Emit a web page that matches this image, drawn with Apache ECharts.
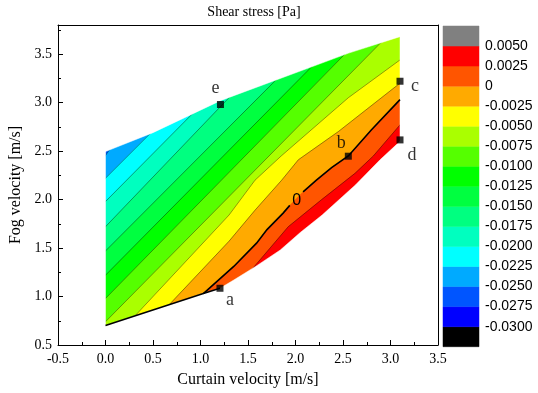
<!DOCTYPE html>
<html><head><meta charset="utf-8">
<script src="https://cdn.jsdelivr.net/npm/echarts@6/dist/echarts.min.js"></script>
<style>html,body{margin:0;padding:0;background:#fff}#c{width:538px;height:393px}</style>
</head><body><div id="c"></div>
<script>
// ---------- data ----------
const titleText = 'Shear stress [Pa]';
const xName = 'Curtain velocity [m/s]';
const yName = 'Fog velocity [m/s]';

// colour bar: boundaries (tick labels) and cell colours, bottom to top
const cbLevels = [-0.03,-0.0275,-0.025,-0.0225,-0.02,-0.0175,-0.015,-0.0125,-0.01,-0.0075,-0.005,-0.0025,0,0.0025,0.005];
const cbColors = ['#000000','#0000FF','#0055FF','#00AAFF','#00FFFF','#00FFBF','#00FF80','#00FF40',
                  '#00FF00','#55FF00','#AAFF00','#FFFF00','#FFAA00','#FF5500','#FF0000','#808080'];

// domain boundary
const domainUpper = [[0,2.495],[0.5,2.69],[1.21,3.02],[2.56,3.51],[3.1,3.68]];
const domainLower = [[0,0.70],[1.03,1.03],[1.205,1.085],[1.35,1.17],[1.58,1.31],[1.84,1.48],[2.05,1.66],[2.28,1.84],[2.63,2.15],[2.89,2.41],[3.1,2.6]];

// contour lines (lower-left end to upper-right end)
const contourLevels = [-0.025,-0.0225,-0.02,-0.0175,-0.015,-0.0125,-0.01,-0.0075,-0.005,-0.0025,0,0.0025];
const line_m0250 = [[-0.1,2.31],[0,2.455],[0.04,2.51],[0.9,3.72]];
const line_m0225 = [[-0.1,2.12],[0,2.22],[0.47,2.68],[1.5,3.72]];
const line_m0200 = [[-0.1,1.88],[0,1.98],[0.87,2.84],[1.75,3.72]];
const line_m0175 = [[-0.1,1.62],[0,1.72],[1.27,3.02],[1.97,3.72]];
const line_m0150 = [[-0.1,1.37],[0,1.47],[1.73,3.17],[2.28,3.72]];
const line_m0125 = [[-0.1,1.12],[0,1.22],[2.12,3.32],[2.52,3.72]];
const line_m0100 = [[-0.1,0.88],[0,0.98],[2.51,3.49],[2.74,3.72]];
const line_m0075 = [[-0.1,0.64],[0,0.74],[2.9,3.62],[3.0,3.72]];
const line_m0050 = [[0.16,0.64],[0.31,0.80],[1.3,1.84],[1.574,2.20],[1.85,2.45],[2.556,3.05],[3.1,3.44],[3.2,3.51]];
const line_m0025 = [[0.57,0.81],[0.67,0.915],[1.3,1.57],[1.574,1.89],[1.855,2.20],[2.03,2.41],[2.45,2.70],[3.1,3.20],[3.2,3.28]];
const line_0000  = [[0.93,0.94],[1.03,1.03],[1.35,1.31],[1.59,1.55],[1.70,1.69],[1.87,1.86],[1.94,1.94],[2.08,2.08],[2.22,2.20],[2.38,2.33],[2.556,2.45],[2.8,2.72],[3.1,3.03],[3.2,3.14]];
const line_p0025 = [[1.42,1.12],[1.55,1.29],[1.924,1.72],[2.276,2.0],[2.626,2.27],[2.82,2.45],[3.1,2.77],[3.2,2.89]];
const contourLines = [line_m0250,line_m0225,line_m0200,line_m0175,line_m0150,line_m0125,line_m0100,line_m0075,line_m0050,line_m0025,line_0000,line_p0025];

const zeroLabelPos = [2.013, 1.99];

// marked points
const markerNames = ['a','b','c','d','e'];
const markerX = [1.205, 2.556, 3.1, 3.1, 1.21];
const markerY = [1.085, 2.447, 3.22, 2.615, 2.98];

// ---------- layout / style ----------
const X_MIN=-0.5, X_MAX=3.5, Y_MIN=0.5, Y_MAX=3.8;
const CB_MIN=-0.0325, CB_MAX=0.0075;
const serif='Liberation Serif', sans='Liberation Sans';
const labelOffsets = {a:[10,12], b:[-7,-13], c:[15,5], d:[12,15], e:[-5,-16]};

function cellIndex(v){ for(let i=0;i<cbLevels.length;i++){ if(Math.abs(cbLevels[i]-v)<1e-9) return i; } return -1; }
function colorAbove(v){ return cbColors[cellIndex(v)+1]; }
function colorBelow(v){ return cbColors[cellIndex(v)]; }

const domainPolygon = domainLower.concat(domainUpper.slice().reverse());
const BX0=-0.1, BX1=3.3, BY0=0.6;
const MX0=-0.2, MX1=3.4, MY0=0.55, MY1=3.76;

function renderContour(params, api){
  const P = pts => pts.map(p => api.coord(p));
  const ch = [];
  const base = colorBelow(contourLevels[0]);
  ch.push({type:'polygon', shape:{points:P(domainPolygon)}, style:{fill:base, stroke:base, lineWidth:0.5}});
  contourLevels.forEach((L,k)=>{
    const line = contourLines[k];
    const f=line[0], l=line[line.length-1];
    const poly = line.concat([[BX1,l[1]],[BX1,BY0],[f[0],BY0]]);
    const c = colorAbove(L);
    ch.push({type:'polygon', shape:{points:P(poly)}, style:{fill:c, stroke:c, lineWidth:0.5}});
  });
  contourLevels.forEach((L,k)=>{
    if (L===0) return;
    ch.push({type:'polyline', shape:{points:P(contourLines[k])}, style:{stroke:'rgba(0,0,0,0.65)', lineWidth:0.6, fill:null}});
  });
  // white masks outside the domain
  const maskStyle = {fill:'#fff', stroke:'#fff', lineWidth:0.5};
  const top = [[MX0,domainUpper[0][1]]].concat(domainUpper, [[MX1,domainUpper[domainUpper.length-1][1]],[MX1,MY1],[MX0,MY1]]);
  const bot = [[MX0,domainLower[0][1]]].concat(domainLower, [[MX1,domainLower[domainLower.length-1][1]],[MX1,MY0],[MX0,MY0]]);
  const xl = domainUpper[0][0], xr = domainUpper[domainUpper.length-1][0];
  const left = [[MX0,MY0],[xl,MY0],[xl,MY1],[MX0,MY1]];
  const right = [[xr,MY0],[MX1,MY0],[MX1,MY1],[xr,MY1]];
  [top,bot,left,right].forEach(m=>ch.push({type:'polygon', shape:{points:P(m)}, style:maskStyle}));
  // thick zero contour with a gap for its label, and thick lower edge
  const zi = contourLevels.indexOf(0);
  const zl = api.coord(zeroLabelPos);
  const zpts = P(contourLines[zi]);
  let seg=[zpts[0]];
  const segs=[];
  for(let i=1;i<zpts.length;i++){
    const a=zpts[i-1], b=zpts[i];
    const mx=(a[0]+b[0])/2, my=(a[1]+b[1])/2;
    if (Math.hypot(mx-zl[0],my-zl[1])<9){ segs.push(seg); seg=[b]; }
    else seg.push(b);
  }
  segs.push(seg);
  segs[0] = segs[0].slice(1);
  segs[segs.length-1] = segs[segs.length-1].slice(0,-1);
  segs.forEach(s=>{ if(s.length>1) ch.push({type:'polyline', shape:{points:s}, style:{stroke:'#000', lineWidth:1.6, fill:null}}); });
  ch.push({type:'polyline', shape:{points:P(domainLower.slice(0,3))}, style:{stroke:'#000', lineWidth:1.6, fill:null}});
  ch.push({type:'text', x:zl[0], y:zl[1], style:{text:'0', fill:'#000', font:'16px '+sans, align:'center', verticalAlign:'middle', textAlign:'center', textVerticalAlign:'middle'}});
  return {type:'group', children:ch};
}

function renderBar(params, api){
  const i = params.dataIndex;
  const edges = [CB_MIN].concat(cbLevels, [CB_MAX]);
  const p0 = api.coord([0, edges[i]]), p1 = api.coord([1, edges[i+1]]);
  return {type:'rect', shape:{x:p0[0], y:p1[1], width:p1[0]-p0[0], height:p0[1]-p1[1]}, style:{fill:cbColors[i], stroke:cbColors[i], lineWidth:0.5}};
}

const scatterData = markerNames.map((n,i)=>({name:n, value:[markerX[i], markerY[i]], label:{offset:labelOffsets[n]}}));

const tickFmt = v => (Math.abs(v*2-Math.round(v*2))>1e-6) ? '' : v.toFixed(1);
const axisCommon = {
  type:'value', axisLine:{show:true, onZero:false, lineStyle:{color:'#000', width:1}},
  splitLine:{show:false}, z:10
};

const option = {
  animation:false,
  backgroundColor:'#fff',
  title:{text:titleText, left:249, top:0, textAlign:'center', textStyle:{fontFamily:serif, fontSize:14, fontWeight:'normal', color:'#000'}},
  grid:[
    {left:58, right:100, top:25, bottom:48, outerBoundsMode:'none', containLabel:false},
    {left:443, width:36, top:26, bottom:46.3, outerBoundsMode:'none', containLabel:false}
  ],
  xAxis:[
    Object.assign({}, axisCommon, {gridIndex:0, min:X_MIN, max:X_MAX, interval:0.5,
      axisTick:{show:true, inside:true, length:5, lineStyle:{color:'#000'}},
      minorTick:{show:true, splitNumber:2, length:3, lineStyle:{color:'#000'}},
      axisLabel:{color:'#000', fontFamily:serif, fontSize:14, margin:7, formatter:tickFmt},
      name:xName, nameLocation:'middle', nameGap:27, nameTextStyle:{fontFamily:serif, fontSize:16, color:'#000'}}),
    Object.assign({}, axisCommon, {gridIndex:0, position:'top', min:X_MIN, max:X_MAX, axisTick:{show:false}, axisLabel:{show:false}}),
    {gridIndex:1, type:'value', min:0, max:1, show:false}
  ],
  yAxis:[
    Object.assign({}, axisCommon, {gridIndex:0, min:Y_MIN, max:Y_MAX, interval:0.5,
      axisTick:{show:true, inside:true, length:5, lineStyle:{color:'#000'}},
      minorTick:{show:true, splitNumber:2, length:3, lineStyle:{color:'#000'}},
      axisLabel:{color:'#000', fontFamily:serif, fontSize:14, margin:6, formatter:tickFmt},
      name:yName, nameLocation:'middle', nameGap:28, nameTextStyle:{fontFamily:serif, fontSize:16, color:'#000'}}),
    Object.assign({}, axisCommon, {gridIndex:0, position:'right', min:Y_MIN, max:Y_MAX, axisTick:{show:false}, axisLabel:{show:false}}),
    {gridIndex:1, type:'value', position:'right', min:CB_MIN, max:CB_MAX, interval:0.0025,
      axisLine:{show:false}, axisTick:{show:false}, splitLine:{show:false},
      axisLabel:{color:'#000', fontFamily:sans, fontSize:14, margin:6,
        formatter: v => (v < cbLevels[0]-1e-9 || v > cbLevels[cbLevels.length-1]+1e-9) ? '' : (Math.abs(v)<1e-9 ? '0' : v.toFixed(4))}}
  ],
  series:[
    {type:'custom', xAxisIndex:0, yAxisIndex:0, data:[[0,1]], renderItem:renderContour, silent:true, z:2},
    {type:'custom', xAxisIndex:2, yAxisIndex:2, data:cbColors.map((c,i)=>[0,i]), renderItem:renderBar, silent:true, z:2},
    {type:'scatter', xAxisIndex:0, yAxisIndex:0, symbol:'rect', symbolSize:7, itemStyle:{color:'#000'}, z:20, silent:true,
      label:{show:true, position:'inside', formatter:p=>p.name, fontFamily:serif, fontSize:18, color:'#000'},
      data:scatterData}
  ]
};
const chart = echarts.init(document.getElementById('c'), null, {renderer:'canvas'});
chart.setOption(option);
</script></body></html>
